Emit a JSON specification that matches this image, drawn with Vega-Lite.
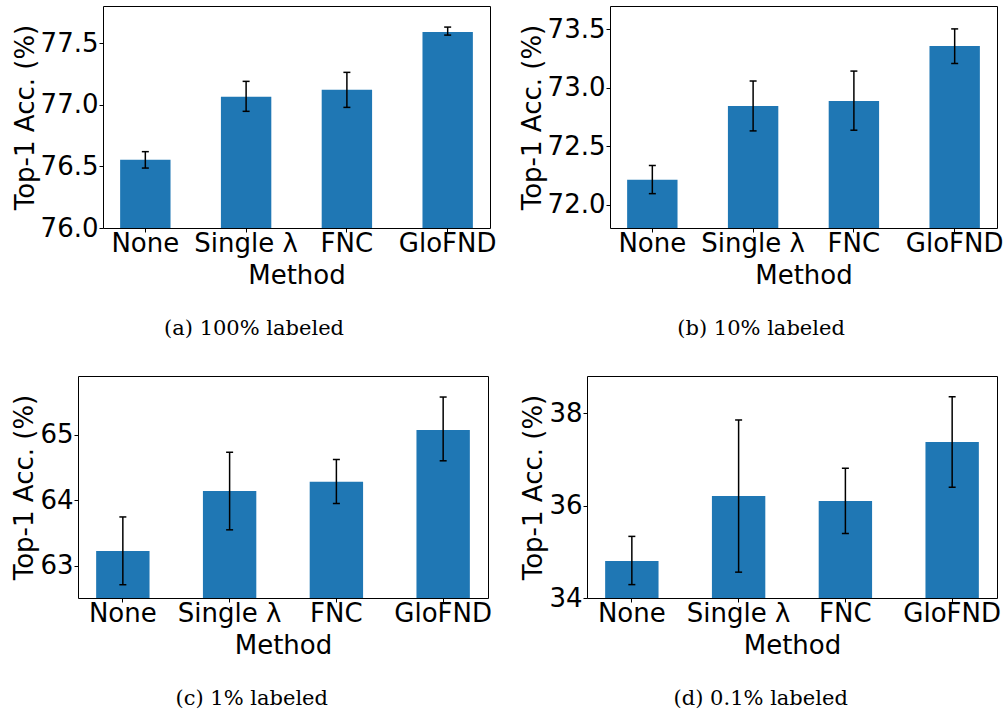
{
  "$schema": "https://vega.github.io/schema/vega-lite/v6.json",
  "padding": {"left": 0, "top": 5, "right": 0, "bottom": 0},
  "background": "white",
  "spacing": 35,
  "config": {
    "font": "DejaVu Sans",
    "view": {"stroke": "black", "strokeWidth": 1},
    "axis": {
      "labelFontSize": 26, "titleFontSize": 26, "titleFontWeight": "normal",
      "labelColor": "black", "titleColor": "black", "tickColor": "black",
      "domain": false, "grid": false, "tickSize": 4, "labelPadding": 1, "titlePadding": 2,
      "labelOverlap": false
    },
    "axisX": {"labelAngle": 0, "labelPadding": -2, "titlePadding": 6},
    "title": {"font": "DejaVu Serif", "fontSize": 21, "fontWeight": "normal", "color": "black", "orient": "bottom", "frame": "bounds", "offset": 30}
  },
  "vconcat": [
    {
      "spacing": 0,
      "hconcat": [
        {"width": 11, "height": 222, "view": {"stroke": null}, "data": {"values": []}, "mark": "point"},
        {
          "width": 387, "height": 222,
          "title": {"text": "(a) 100% labeled"},
          "data": {"values": [
            {"method": "None", "acc": 76.554, "lo": 76.486, "hi": 76.619},
            {"method": "Single λ", "acc": 77.065, "lo": 76.946, "hi": 77.189},
            {"method": "FNC", "acc": 77.12, "lo": 76.978, "hi": 77.262},
            {"method": "GloFND", "acc": 77.59, "lo": 77.564, "hi": 77.629}
          ]},
          "encoding": {"x": {"field": "method", "type": "nominal", "sort": null, "title": "Method", "scale": {"paddingInner": 0.5, "paddingOuter": 0.17}}},
          "layer": [
            {"mark": {"type": "bar", "clip": true, "color": "#1f77b4"},
             "encoding": {"y": {"field": "acc", "type": "quantitative", "title": "Top-1 Acc. (%)", "scale": {"domain": [76.0, 77.8], "zero": false, "nice": false}, "axis": {"values": [76, 76.5, 77, 77.5], "format": ".1f"}}}},
            {"mark": {"type": "rule", "color": "black", "strokeWidth": 1.5},
             "encoding": {"y": {"field": "lo", "type": "quantitative", "title": "Top-1 Acc. (%)"}, "y2": {"field": "hi"}}},
            {"mark": {"type": "tick", "color": "black", "thickness": 1.5, "size": 7, "opacity": 1},
             "encoding": {"y": {"field": "lo", "type": "quantitative", "title": "Top-1 Acc. (%)"}}},
            {"mark": {"type": "tick", "color": "black", "thickness": 1.5, "size": 7, "opacity": 1},
             "encoding": {"y": {"field": "hi", "type": "quantitative", "title": "Top-1 Acc. (%)"}}}
          ]
        },
        {"width": 21, "height": 222, "view": {"stroke": null}, "data": {"values": []}, "mark": "point"},
        {
          "width": 387, "height": 222,
          "title": {"text": "(b) 10% labeled"},
          "data": {"values": [
            {"method": "None", "acc": 72.213, "lo": 72.094, "hi": 72.335},
            {"method": "Single λ", "acc": 72.845, "lo": 72.631, "hi": 73.058},
            {"method": "FNC", "acc": 72.887, "lo": 72.637, "hi": 73.143},
            {"method": "GloFND", "acc": 73.357, "lo": 73.208, "hi": 73.504}
          ]},
          "encoding": {"x": {"field": "method", "type": "nominal", "sort": null, "title": "Method", "scale": {"paddingInner": 0.5, "paddingOuter": 0.17}}},
          "layer": [
            {"mark": {"type": "bar", "clip": true, "color": "#1f77b4"},
             "encoding": {"y": {"field": "acc", "type": "quantitative", "title": "Top-1 Acc. (%)", "scale": {"domain": [71.8, 73.7], "zero": false, "nice": false}, "axis": {"values": [72, 72.5, 73, 73.5], "format": ".1f"}}}},
            {"mark": {"type": "rule", "color": "black", "strokeWidth": 1.5},
             "encoding": {"y": {"field": "lo", "type": "quantitative", "title": "Top-1 Acc. (%)"}, "y2": {"field": "hi"}}},
            {"mark": {"type": "tick", "color": "black", "thickness": 1.5, "size": 7, "opacity": 1},
             "encoding": {"y": {"field": "lo", "type": "quantitative", "title": "Top-1 Acc. (%)"}}},
            {"mark": {"type": "tick", "color": "black", "thickness": 1.5, "size": 7, "opacity": 1},
             "encoding": {"y": {"field": "hi", "type": "quantitative", "title": "Top-1 Acc. (%)"}}}
          ]
        }
      ]
    },
    {
      "spacing": 0,
      "hconcat": [
        {"width": 11, "height": 222, "view": {"stroke": null}, "data": {"values": []}, "mark": "point"},
        {
          "width": 410, "height": 222,
          "title": {"text": "(c) 1% labeled"},
          "data": {"values": [
            {"method": "None", "acc": 63.228, "lo": 62.715, "hi": 63.746},
            {"method": "Single λ", "acc": 64.14, "lo": 63.55, "hi": 64.73},
            {"method": "FNC", "acc": 64.28, "lo": 63.95, "hi": 64.62},
            {"method": "GloFND", "acc": 65.07, "lo": 64.6, "hi": 65.57}
          ]},
          "encoding": {"x": {"field": "method", "type": "nominal", "sort": null, "title": "Method", "scale": {"paddingInner": 0.5, "paddingOuter": 0.17}}},
          "layer": [
            {"mark": {"type": "bar", "clip": true, "color": "#1f77b4"},
             "encoding": {"y": {"field": "acc", "type": "quantitative", "title": "Top-1 Acc. (%)", "scale": {"domain": [62.513, 65.89], "zero": false, "nice": false}, "axis": {"values": [63, 64, 65], "format": "d"}}}},
            {"mark": {"type": "rule", "color": "black", "strokeWidth": 1.5},
             "encoding": {"y": {"field": "lo", "type": "quantitative", "title": "Top-1 Acc. (%)"}, "y2": {"field": "hi"}}},
            {"mark": {"type": "tick", "color": "black", "thickness": 1.5, "size": 7, "opacity": 1},
             "encoding": {"y": {"field": "lo", "type": "quantitative", "title": "Top-1 Acc. (%)"}}},
            {"mark": {"type": "tick", "color": "black", "thickness": 1.5, "size": 7, "opacity": 1},
             "encoding": {"y": {"field": "hi", "type": "quantitative", "title": "Top-1 Acc. (%)"}}}
          ]
        },
        {"width": 27, "height": 222, "view": {"stroke": null}, "data": {"values": []}, "mark": "point"},
        {
          "width": 410, "height": 222,
          "title": {"text": "(d) 0.1% labeled"},
          "data": {"values": [
            {"method": "None", "acc": 34.8, "lo": 34.29, "hi": 35.335},
            {"method": "Single λ", "acc": 36.21, "lo": 34.56, "hi": 37.857},
            {"method": "FNC", "acc": 36.1, "lo": 35.4, "hi": 36.81},
            {"method": "GloFND", "acc": 37.38, "lo": 36.4, "hi": 38.36}
          ]},
          "encoding": {"x": {"field": "method", "type": "nominal", "sort": null, "title": "Method", "scale": {"paddingInner": 0.5, "paddingOuter": 0.17}}},
          "layer": [
            {"mark": {"type": "bar", "clip": true, "color": "#1f77b4"},
             "encoding": {"y": {"field": "acc", "type": "quantitative", "title": "Top-1 Acc. (%)", "scale": {"domain": [34, 38.81], "zero": false, "nice": false}, "axis": {"values": [34, 36, 38], "format": "d"}}}},
            {"mark": {"type": "rule", "color": "black", "strokeWidth": 1.5},
             "encoding": {"y": {"field": "lo", "type": "quantitative", "title": "Top-1 Acc. (%)"}, "y2": {"field": "hi"}}},
            {"mark": {"type": "tick", "color": "black", "thickness": 1.5, "size": 7, "opacity": 1},
             "encoding": {"y": {"field": "lo", "type": "quantitative", "title": "Top-1 Acc. (%)"}}},
            {"mark": {"type": "tick", "color": "black", "thickness": 1.5, "size": 7, "opacity": 1},
             "encoding": {"y": {"field": "hi", "type": "quantitative", "title": "Top-1 Acc. (%)"}}}
          ]
        }
      ]
    }
  ]
}
